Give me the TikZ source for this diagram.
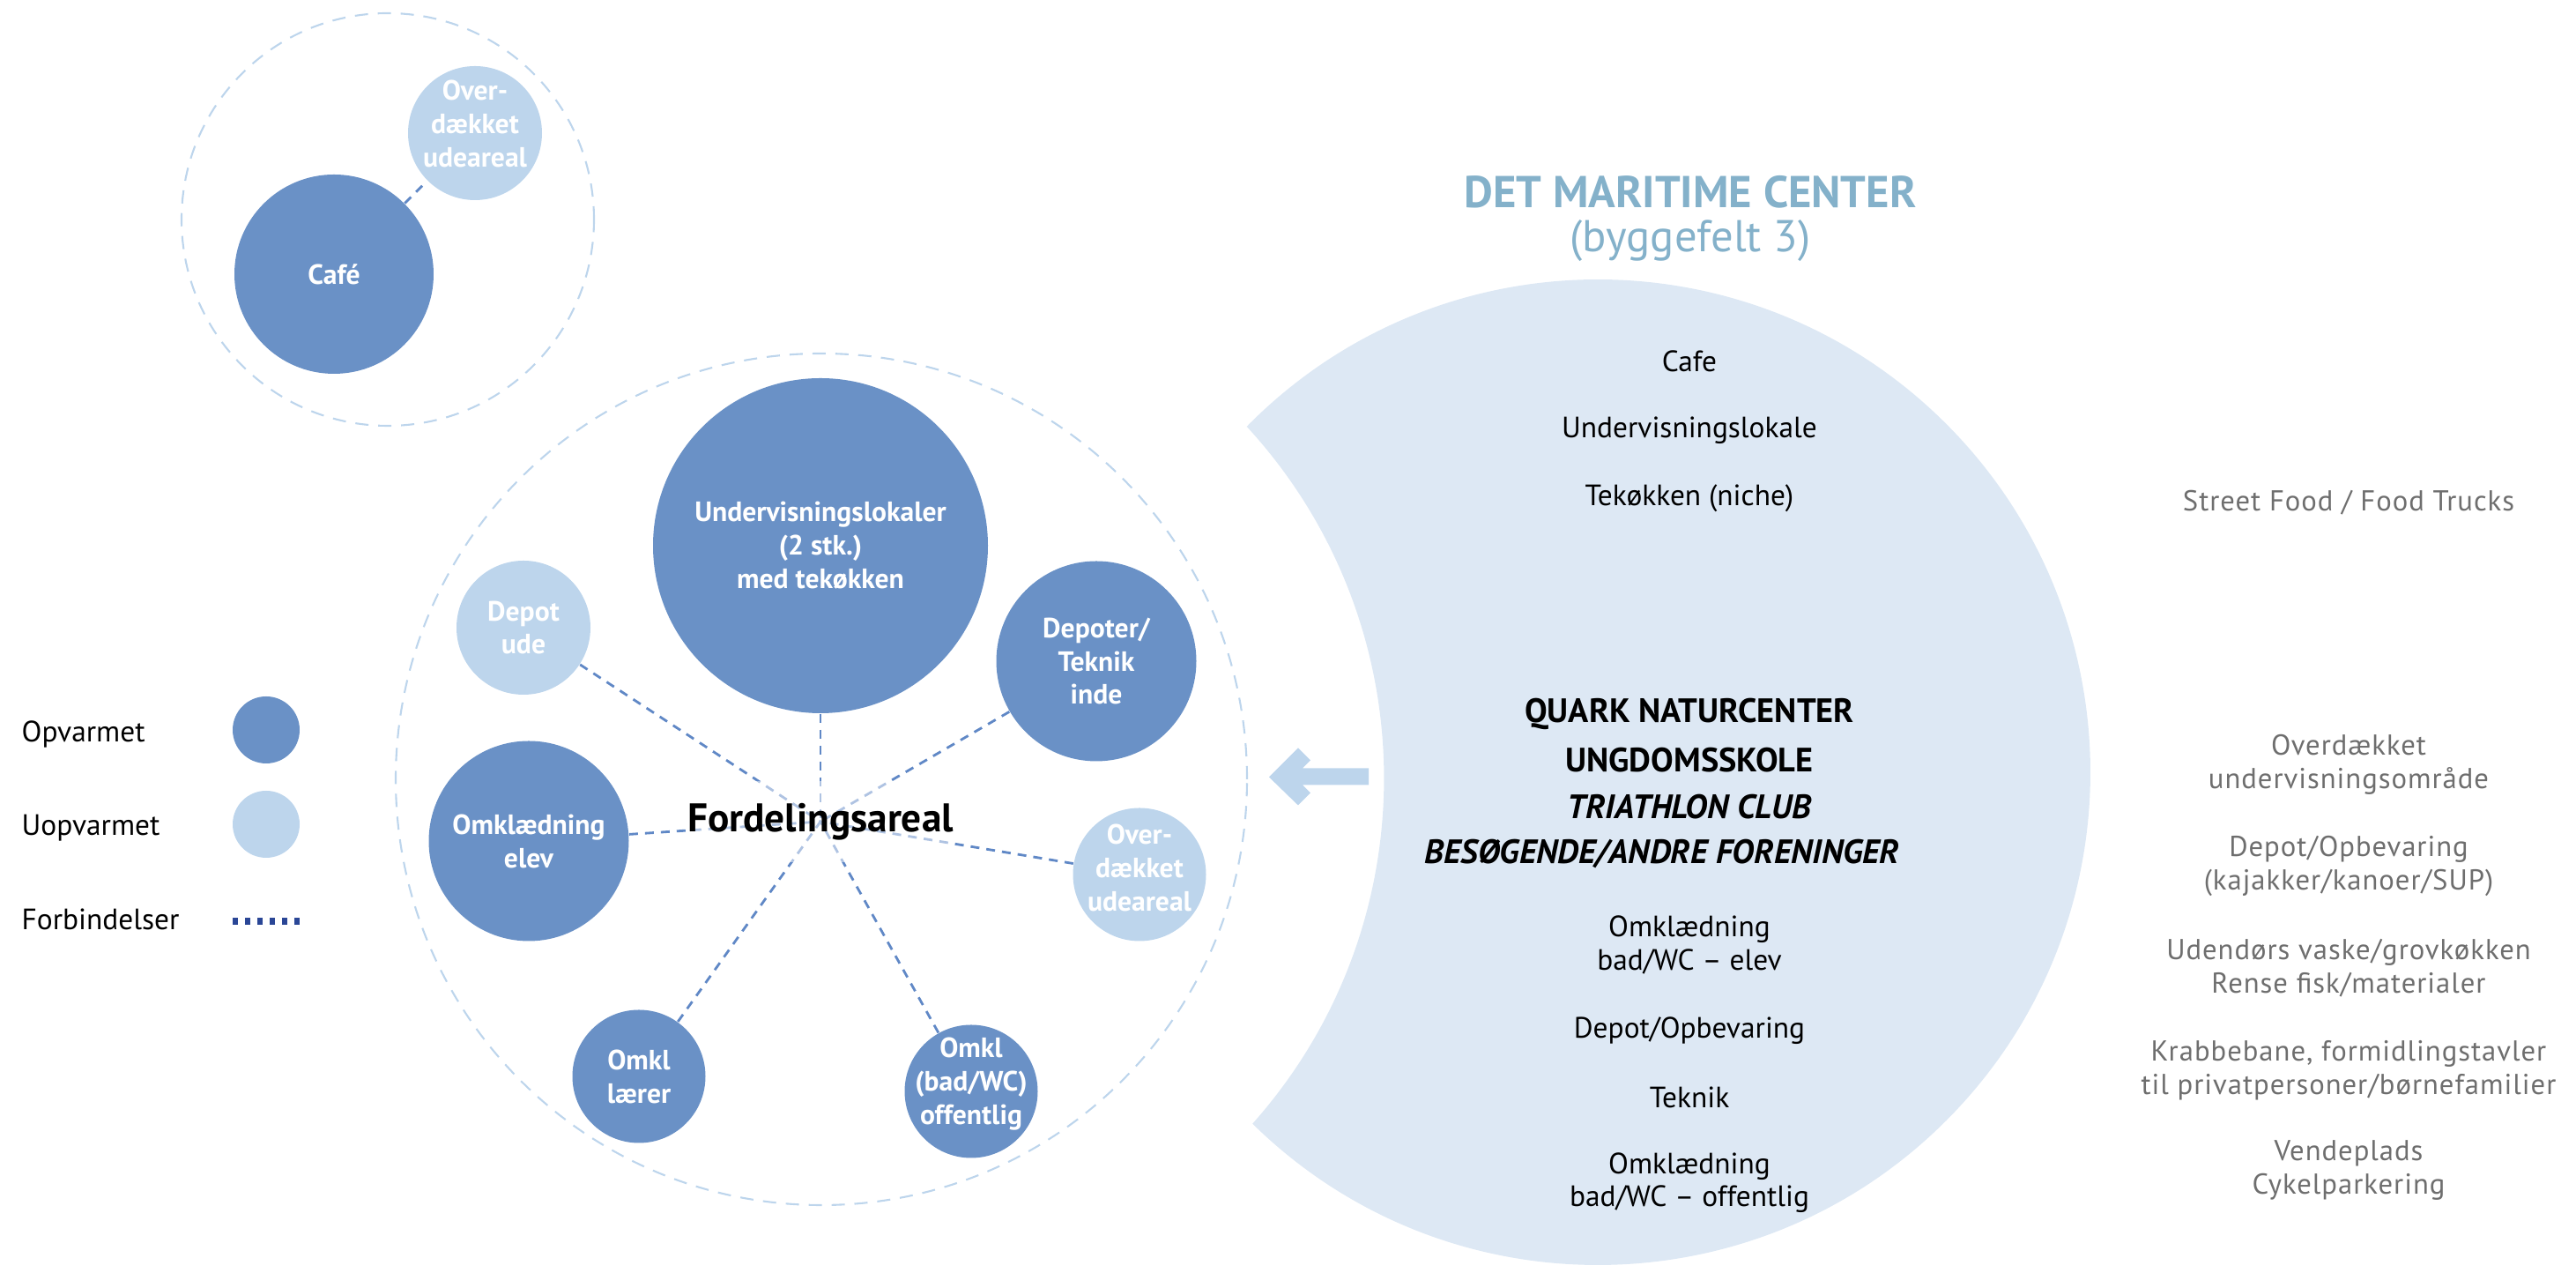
\documentclass[tikz,border=0pt]{standalone}
\usepackage{fontspec}
\setmainfont{PT Sans}
\usepackage{xcolor}
\usepackage{tikz}
\usetikzlibrary{positioning,calc}
\definecolor{warmblue}{RGB}{106,145,198}
\definecolor{coldblue}{RGB}{189,213,236}
\definecolor{moonblue}{RGB}{221,232,244}
\definecolor{titleblue}{RGB}{132,177,202}
\definecolor{linkblue}{RGB}{96,136,198}
\definecolor{legendnavy}{RGB}{42,70,150}
\definecolor{softgrey}{RGB}{110,110,110}

\begin{document}
\begin{tikzpicture}[
    room/.style={circle, inner sep=0pt},
    warm/.style={room, fill=warmblue},
    cold/.style={room, fill=coldblue},
    roomtext/.style={text=white, align=center, inner sep=0pt, font=\bfseries\fontsize{9.0}{10.8}\selectfont},
    zone/.style={circle, draw=coldblue, line width=0.6pt, dash pattern=on 0.15cm off 0.11cm, inner sep=0pt},
    link/.style={draw=linkblue, line width=0.8pt, dash pattern=on 0.10cm off 0.08cm},
    keylink/.style={draw=legendnavy, line width=0.08cm, dash pattern=on 0.06cm off 0.08cm},
    keytext/.style={anchor=base west, inner sep=0pt, font=\fontsize{9.5}{11}\selectfont},
    moontext/.style={align=center, font=\fontsize{9.5}{10.6}\selectfont},
    moonhead/.style={font=\bfseries\fontsize{10.9}{12}\selectfont},
    moonheadit/.style={font=\bfseries\itshape\fontsize{10.9}{12}\selectfont},
    sidetext/.style={text=softgrey, align=center, font=\fontsize{9.3}{10.8}\selectfont\addfontfeatures{LetterSpace=3}}
]
    \useasboundingbox (0,0) rectangle (29.23,14.44);

    % Det maritime center
    \coordinate (moonc) at (18.13,5.68);
    \fill[moonblue] ($(moonc)+(135.5:5.59)$) arc[start angle=135.5, end angle=-134.5, radius=5.59]
        arc[start angle=-41.7, end angle=42.6, radius=5.89] -- cycle;

    % Cafe zone
    \node[zone, minimum size=4.68cm] (zonecafe) at (4.40,11.95) {};
    \node[warm, minimum size=2.26cm, label={[roomtext]center:Café}] (cafe) at (3.79,11.33) {};
    \node[cold, minimum size=1.52cm, label={[roomtext, yshift=0.11cm]center:Over-\\dækket\\udeareal}] (overcafe) at (5.39,12.93) {};
    \draw[link] (cafe) -- (overcafe);

    % Main zone
    \node[zone, minimum size=9.66cm] (zonemain) at (9.32,5.60) {};
    \node[warm, minimum size=3.80cm, label={[roomtext]center:Undervisningslokaler\\(2 stk.)\\med tekøkken}] (undervis) at (9.31,8.25) {};
    \node[cold, minimum size=1.52cm, label={[roomtext]center:Depot\\ude}] (depotude) at (5.94,7.32) {};
    \node[warm, minimum size=2.27cm, label={[roomtext]center:Depoter/\\Teknik\\inde}] (depoter) at (12.44,6.94) {};
    \node[warm, minimum size=2.27cm, label={[roomtext]center:Omklædning\\elev}] (omklelev) at (6.00,4.90) {};
    \node[cold, minimum size=1.51cm, label={[roomtext, yshift=0.08cm]center:Over-\\dækket\\udeareal}] (overmain) at (12.93,4.52) {};
    \node[warm, minimum size=1.51cm, label={[roomtext]center:Omkl\\lærer}] (omkllaerer) at (7.25,2.23) {};
    \node[warm, minimum size=1.51cm, label={[roomtext, yshift=0.08cm]center:Omkl\\(bad/WC)\\offentlig}] (omkloff) at (11.02,2.06) {};

    \coordinate (hub) at (9.31,5.12);
    \draw[link] (undervis) -- (hub);
    \draw[link] (depotude) -- (hub);
    \draw[link] (depoter) -- (hub);
    \draw[link] (omklelev) -- (hub);
    \draw[link] (overmain) -- (hub);
    \draw[link] (omkllaerer) -- (hub);
    \draw[link] (omkloff) -- (hub);
    \node[fill=white, fill opacity=0.5, text opacity=1, inner xsep=0pt, inner ysep=0.25cm, font=\bfseries\fontsize{12.9}{14}\selectfont] (ford) at (hub) {Fordelingsareal};

    % Legend
    \node[keytext] (keywarmtext) at (0.24,6.02) {Opvarmet};
    \node[keytext] (keycoldtext) at (0.24,4.96) {Uopvarmet};
    \node[keytext] (keylinktext) at (0.24,3.89) {Forbindelser};
    \node[warm, minimum size=0.76cm] (keywarm) at (3.02,6.16) {};
    \node[cold, minimum size=0.76cm] (keycold) at (3.02,5.09) {};
    \coordinate (keylinkA) at (2.64,3.99);
    \coordinate (keylinkB) at (3.40,3.99);
    \draw[keylink] (keylinkA) -- (keylinkB);

    % Title
    \node[text=titleblue, font=\bfseries\fontsize{14.4}{16}\selectfont] (maritime) at (19.18,12.26) {DET MARITIME CENTER};
    \node[text=titleblue, font=\fontsize{14.4}{16}\selectfont] (byggefelt) at (19.18,11.71) {(byggefelt 3)};

    \node[moontext] (mcafe) at (19.17,10.34) {Cafe};
    \node[moontext] (mundervis) at (19.17,9.56) {Undervisningslokale};
    \node[moontext] (mtekoekken) at (19.17,8.79) {Tekøkken (niche)};
    \node[moontext, moonhead] (quark) at (19.17,6.34) {QUARK NATURCENTER};
    \node[moontext, moonhead] (ungdom) at (19.17,5.82) {UNGDOMSSKOLE};
    \node[moontext, moonheadit] (triathlon) at (19.17,5.29) {TRIATHLON CLUB};
    \node[moontext, moonheadit] (besoeg) at (18.86,4.75) {BESØGENDE/ANDRE FORENINGER};
    \node[moontext] (melev) at (19.17,3.72) {Omklædning\\bad/WC -- elev};
    \node[moontext] (mdepot) at (19.17,2.75) {Depot/Opbevaring};
    \node[moontext] (mteknik) at (19.17,1.99) {Teknik};
    \node[moontext] (moff) at (19.17,1.02) {Omklædning\\bad/WC -- offentlig};

    % Arrow into the main zone
    \coordinate (arrowtip) at (14.40,5.625);
    \fill[coldblue] (arrowtip) -- ++(0.33,0.33) -- ++(0.14,-0.14) -- ++(-0.09,-0.09) -- ++(0.75,0) -- ++(0,-0.19) -- ++(-0.75,0) -- ++(0.09,-0.09) -- ++(-0.14,-0.14) -- cycle;

    % Outdoor functions
    \node[sidetext] (street) at (26.65,8.74) {Street Food / Food Trucks};
    \node[sidetext] (overund) at (26.65,5.77) {Overdækket\\undervisningsområde};
    \node[sidetext] (kajak) at (26.65,4.62) {Depot/Opbevaring\\(kajakker/kanoer/SUP)};
    \node[sidetext] (vaske) at (26.65,3.46) {Udendørs vaske/grovkøkken\\Rense fisk/materialer};
    \node[sidetext] (krabbe) at (26.65,2.30) {Krabbebane, formidlingstavler\\til privatpersoner/børnefamilier};
    \node[sidetext] (vende) at (26.65,1.16) {Vendeplads\\Cykelparkering};
\end{tikzpicture}
\end{document}
